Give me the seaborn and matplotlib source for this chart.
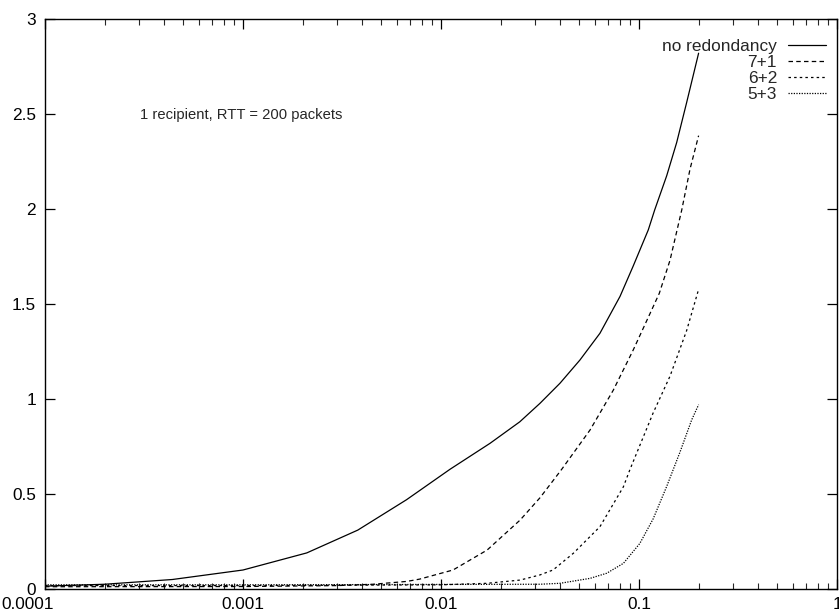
import matplotlib
matplotlib.use("Agg")
import matplotlib.pyplot as plt
import matplotlib.ticker as mticker
import matplotlib.transforms as mtrans
import seaborn as sns
import pandas as pd

# ---- data ----
x_none = [0.0001, 0.0002, 0.00044, 0.001, 0.0021, 0.0038, 0.0067, 0.0111, 0.0177, 0.025,
          0.0316, 0.0399, 0.0503, 0.0635, 0.0802, 0.0935, 0.1114, 0.12, 0.138, 0.155,
          0.174, 0.2]
y_none = [0.015, 0.025, 0.05, 0.10, 0.19, 0.31, 0.47, 0.63, 0.767, 0.88,
          0.977, 1.083, 1.205, 1.346, 1.54, 1.70, 1.89, 1.995, 2.175, 2.35,
          2.56, 2.82]

x_71 = [0.0001, 0.001, 0.003, 0.00454, 0.00673, 0.0078, 0.0115, 0.0171, 0.0251, 0.0316,
        0.0368, 0.0407, 0.0566, 0.0742, 0.0935, 0.1137, 0.1266, 0.1434, 0.1644, 0.181,
        0.2]
y_71 = [0.012, 0.013, 0.018, 0.025, 0.04, 0.052, 0.10, 0.205, 0.363, 0.48,
        0.57, 0.63, 0.837, 1.047, 1.258, 1.45, 1.556, 1.73, 1.995, 2.21,
        2.386]

x_62 = [0.0001, 0.001, 0.01, 0.0171, 0.0251, 0.0316, 0.0368, 0.0466, 0.0635, 0.0834,
        0.0901, 0.1177, 0.1434, 0.174, 0.2]
y_62 = [0.018, 0.018, 0.022, 0.03, 0.047, 0.074, 0.10, 0.188, 0.328, 0.538,
        0.63, 0.925, 1.12, 1.36, 1.577]

x_53 = [0.0001, 0.001, 0.01, 0.0316, 0.0399, 0.0566, 0.0687, 0.0834, 0.101, 0.118,
        0.138, 0.161, 0.1845, 0.2]
y_53 = [0.022, 0.022, 0.024, 0.025, 0.03, 0.056, 0.083, 0.135, 0.24, 0.37,
        0.54, 0.72, 0.89, 0.97]

labels = ["no redondancy", "7+1", "6+2", "5+3"]
x_ticks = [0.0001, 0.001, 0.01, 0.1, 1]
x_tick_labels = ["0.0001", "0.001", "0.01", "0.1", "1"]
y_ticks = [0, 0.5, 1, 1.5, 2, 2.5, 3]
y_tick_labels = ["0", "0.5", "1", "1.5", "2", "2.5", "3"]
annotation = "1 recipient, RTT = 200 packets"

sns.set_style("ticks")
plt.rcParams["font.family"] = ["Liberation Sans", "DejaVu Sans"]

fig = plt.figure(figsize=(8.39, 6.14), dpi=100)
ax = fig.add_axes([45 / 839, 25 / 614, 792 / 839, 570 / 614])

series = [(x_none, y_none, labels[0], "-"),
          (x_71, y_71, labels[1], (0, (3.6, 2.6))),
          (x_62, y_62, labels[2], (0, (2.0, 2.5))),
          (x_53, y_53, labels[3], (0, (1, 1.1)))]

for xs, ys, lab, ls in series:
    df = pd.DataFrame({"x": xs, "y": ys})
    sns.lineplot(data=df, x="x", y="y", ax=ax, color="black", linewidth=0.9,
                 linestyle=ls, label=lab, sort=True, estimator=None)

ax.set_xscale("log")
ax.set_xlim(0.0001, 1)
ax.set_ylim(0, 3)
ax.xaxis.set_major_locator(mticker.FixedLocator(x_ticks))
ax.xaxis.set_major_formatter(mticker.FixedFormatter(x_tick_labels))
ax.xaxis.set_minor_locator(mticker.LogLocator(base=10, subs=range(2, 10), numticks=20))
ax.xaxis.set_minor_formatter(mticker.NullFormatter())
ax.set_yticks(y_ticks)
ax.set_yticklabels(y_tick_labels)
ax.set_xlabel("")
ax.set_ylabel("")

ax.tick_params(axis="both", which="major", direction="in", length=7, width=0.9,
               top=True, right=True, labelsize=12.4, colors="black")
ax.tick_params(axis="x", which="major", pad=5.5)
ax.tick_params(axis="y", which="major", pad=6.5)
ax.tick_params(axis="x", which="minor", direction="in", length=4, width=0.8,
               top=True, bottom=True)
for sp in ax.spines.values():
    sp.set_linewidth(1.0)
    sp.set_color("black")

# first x tick label is pushed inside the figure, as in the reference
first = ax.xaxis.get_major_ticks()[0].label1
first.set_horizontalalignment("left")
first.set_transform(first.get_transform() +
                    mtrans.ScaledTranslation(-0.44, 0, fig.dpi_scale_trans))

ax.text((140 - 45) / 792, (589 - 115) / 570, annotation, transform=ax.transAxes,
        fontsize=10.6, va="center", ha="left")

leg = ax.legend(loc="upper right", frameon=False, markerfirst=False, fontsize=12.4,
                handlelength=2.2, handletextpad=0.64, labelspacing=0.045,
                borderpad=0.0, borderaxespad=0.0,
                bbox_to_anchor=((826 - 45) / 792, (589 - 39) / 570))

fig.savefig("out.png", dpi=100)
